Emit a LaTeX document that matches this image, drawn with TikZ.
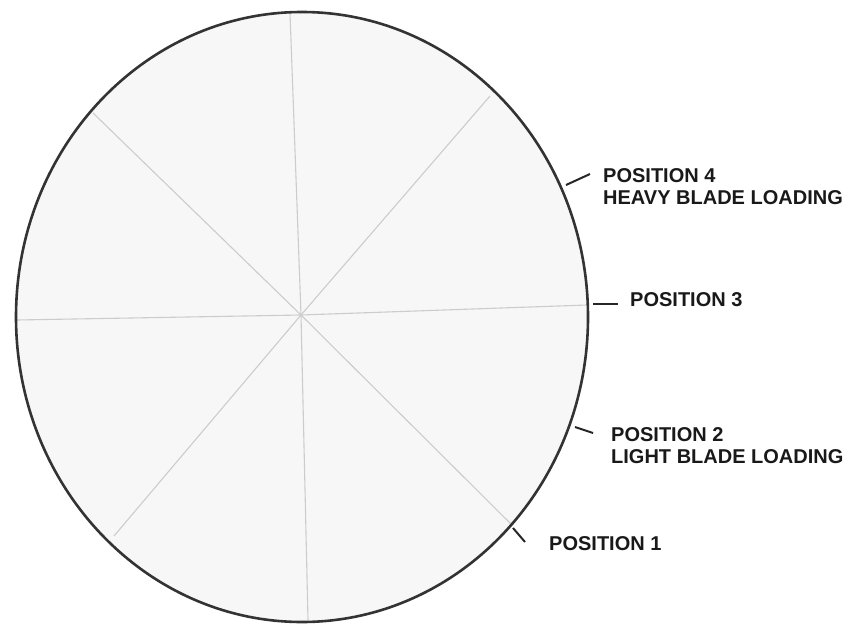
\documentclass[tikz,border=0pt]{standalone}
\usepackage{fontspec}
\setmainfont{Liberation Sans}
\begin{document}
\begin{tikzpicture}[x=1pt,y=-1pt,
  rim/.style={draw=black!80,line width=2.6pt},
  spoke/.style={draw=black!20,line width=1.1pt},
  leader/.style={draw=black!85,line width=2pt},
  lbl/.style={font=\bfseries\fontsize{20}{22}\selectfont,align=left,anchor=west,inner sep=0pt,text=black!90}]
\useasboundingbox (0,0) rectangle (853,629);
\coordinate (c) at (301,315);
\fill[black!3] (302,317) ellipse [x radius=286, y radius=305];
% spokes
\coordinate (s0) at (587,305);
\coordinate (s1) at (490,96);
\coordinate (s2) at (290,13);
\coordinate (s3) at (93,113);
\coordinate (s4) at (17,320);
\coordinate (s5) at (114,536);
\coordinate (s6) at (308,620);
\coordinate (s7) at (511,524);
\foreach \i in {0,...,7} \draw[spoke] (c) -- (s\i);
\draw[rim] (302,317) ellipse [x radius=286, y radius=305];
% labels
\node[lbl] (p4) at (603,187) {POSITION 4\\HEAVY BLADE LOADING};
\node[lbl] (p3) at (630,300) {POSITION 3};
\node[lbl] (p2) at (611,446) {POSITION 2\\LIGHT BLADE LOADING};
\node[lbl] (p1) at (549,544) {POSITION 1};
% leaders
\coordinate (t4a) at (566,185);
\coordinate (t4b) at (590,174);
\coordinate (t3a) at (593,304);
\coordinate (t3b) at (618,304);
\coordinate (t2a) at (575,427);
\coordinate (t2b) at (593,433);
\coordinate (t1a) at (513,528);
\coordinate (t1b) at (525,542);
\draw[leader] (t4a) -- (t4b);
\draw[leader] (t3a) -- (t3b);
\draw[leader] (t2a) -- (t2b);
\draw[leader] (t1a) -- (t1b);
\end{tikzpicture}
\end{document}
